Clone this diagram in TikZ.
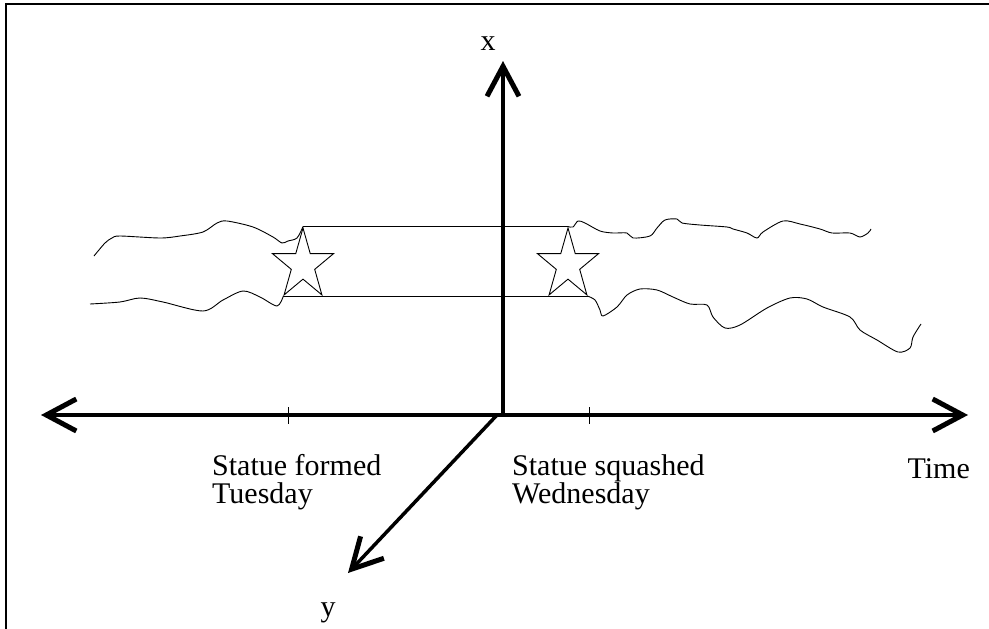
\documentclass[tikz,border=0pt]{standalone}
\usepackage{fontspec}
\setmainfont{Liberation Serif}
\usetikzlibrary{arrows.meta,shapes.geometric}
\begin{document}
\begin{tikzpicture}[x=1pt, y=-1pt,
  >={Straight Barb[length=30pt,width=32pt,line width=5pt]},
  axis/.style={line width=3.5pt},
  tick/.style={line width=0.8pt},
  worldline/.style={line width=0.9pt},
  statue/.style={star, star points=5, star point ratio=2.618, draw, line width=0.9pt, minimum size=74pt, inner sep=0pt, xscale=0.87, transform shape},
  label/.style={font=\fontsize{30}{28}\selectfont, inner sep=0pt, align=left}]
\useasboundingbox (0,0) rectangle (989,629);
% frame
\draw[line width=1.5pt] (6,629) -- (6,4) -- (989,4);

% axes
\coordinate (origin) at (503,415);
\coordinate (xtip) at (503,61);
\coordinate (tback) at (41,415);
\coordinate (ttip) at (968,415);
\coordinate (ystart) at (497,415);
\coordinate (ytip) at (348,573);
\draw[axis,->] (origin) -- (xtip);
\draw[axis,<->] (tback) -- (ttip);
\draw[axis,->] (ystart) -- (ytip);

% ticks
\coordinate (tue) at (288,415);
\coordinate (wed) at (589,415);
\draw[tick] (tue) ++(0,-8) -- ++(0,17);
\draw[tick] (wed) ++(0,-8) -- ++(0,17);

% labels
\node[label, anchor=base] (xlabel) at (488,50) {x};
\node[label, anchor=base] (ylabel) at (328,616) {y};
\node[label, anchor=north west] (formed) at (212,454) {Statue formed\\Tuesday};
\node[label, anchor=north west] (squashed) at (512,454) {Statue squashed\\Wednesday};
\node[label, anchor=base east] (time) at (970,478) {Time};

% statue and its world tube
\node[statue] (s1) at (303,265) {};
\node[statue] (s2) at (568,265) {};
\draw[worldline] (s1.outer point 1) -- (s2.outer point 1);
\draw[worldline] (s1.outer point 3) -- (s2.outer point 4);

% clay before and after
\draw[worldline] plot[smooth, tension=0.5] coordinates {(94,256) (105,243) (112,238) (120,236) (160,238) (180,236) (203,232) (217,223) (227,221) (253,227) (273,237) (282,243) (288,241) (297,238) (s1.outer point 1)};
\draw[worldline] plot[smooth, tension=0.5] coordinates {(90,304) (120,302) (140,298) (163,302) (203,311) (223,300) (243,291) (260,297) (277,306) (s1.outer point 3)};
\draw[worldline] plot[smooth, tension=0.5] coordinates {(s2.outer point 1) (573,227) (578,221) (585,223) (600,231) (613,233) (627,233) (633,238) (650,236) (657,228) (665,220) (677,219) (682,223) (700,225) (727,227) (733,229) (747,233) (757,238) (763,232) (783,221) (800,224) (820,229) (832,233) (850,233) (860,237) (868,233) (871,229)};
\draw[worldline] plot[smooth, tension=0.5] coordinates {(s2.outer point 4) (595,300) (600,310) (603,316) (617,307) (627,295) (640,289) (657,290) (673,297) (690,304) (707,305) (713,317) (725,328) (740,325) (767,308) (790,298) (807,299) (823,307) (850,317) (860,330) (877,340) (898,352) (910,348) (913,337) (921,324)};
\end{tikzpicture}
\end{document}
